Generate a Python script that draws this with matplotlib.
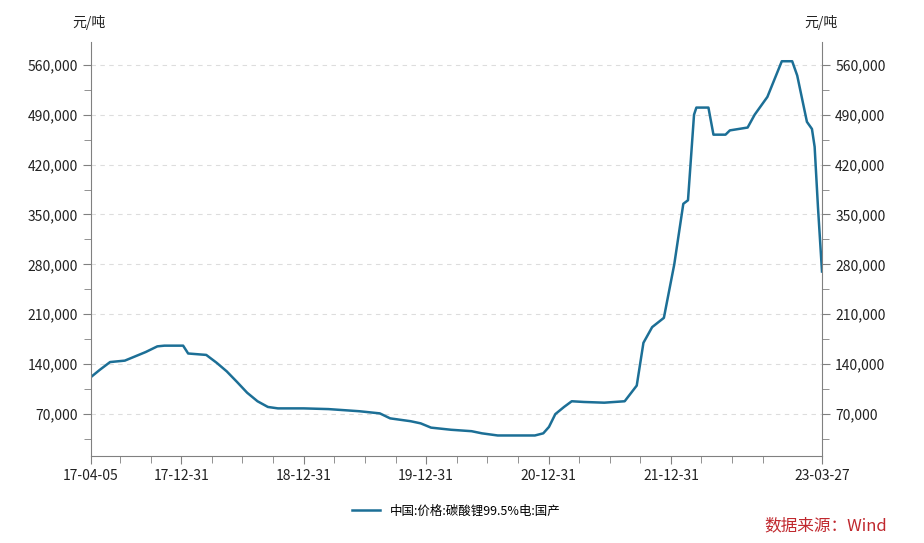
import numpy as np
import pandas as pd
import matplotlib
matplotlib.use('Agg')
import matplotlib.pyplot as plt
import matplotlib.dates as mdates
from matplotlib import ticker as mticker

plt.rcParams['font.family'] = ['Noto Sans CJK SC', 'DejaVu Sans']

dates = pd.to_datetime([
    '2017-04-05', '2017-05-01', '2017-06-01', '2017-07-15', '2017-08-15', '2017-09-15',
    '2017-10-20', '2017-11-10', '2018-01-05', '2018-01-20', '2018-03-15', '2018-04-15',
    '2018-05-15', '2018-06-15', '2018-07-15', '2018-08-15', '2018-09-15', '2018-10-15',
    '2018-12-31', '2019-03-15', '2019-06-15', '2019-08-15', '2019-09-15', '2019-11-15',
    '2019-12-15', '2020-01-15', '2020-03-15', '2020-05-15', '2020-06-15', '2020-08-01',
    '2020-11-20', '2020-12-15', '2021-01-01', '2021-01-20', '2021-02-15', '2021-03-10',
    '2021-04-15', '2021-06-15', '2021-08-15', '2021-09-20', '2021-10-10', '2021-11-05',
    '2021-12-10', '2022-01-10', '2022-02-06', '2022-02-20', '2022-03-10', '2022-03-17',
    '2022-04-22', '2022-05-07', '2022-06-12', '2022-06-25', '2022-08-17', '2022-09-07',
    '2022-10-15', '2022-11-27', '2022-12-28', '2023-01-12', '2023-02-10', '2023-02-25',
    '2023-03-05', '2023-03-15', '2023-03-27'])
price = [
    122000, 132000, 143000, 145000, 151000, 157000,
    165000, 166000, 166000, 155000, 153000, 142000,
    130000, 115000, 100000, 88000, 80000, 78000,
    78000, 77000, 74000, 71000, 64000, 60000,
    57000, 51000, 48000, 46000, 43000, 40000,
    40000, 43000, 52000, 70000, 80000, 88000,
    87000, 86000, 88000, 110000, 170000, 192000,
    205000, 280000, 365000, 370000, 490000, 500000,
    500000, 462000, 462000, 468000, 472000, 490000,
    515000, 565000, 565000, 545000, 480000, 470000,
    445000, 360000, 270000]

line_label = '中国:价格:碳酸锂99.5%电:国产'
xticks = pd.to_datetime(['2017-04-05', '2017-12-31', '2018-12-31', '2019-12-31',
                         '2020-12-31', '2021-12-31', '2023-03-27'])
xticklabels = ['17-04-05', '17-12-31', '18-12-31', '19-12-31', '20-12-31', '21-12-31', '23-03-27']
yticks = [70000, 140000, 210000, 280000, 350000, 420000, 490000, 560000]

fig = plt.figure(figsize=(9.24, 5.43), dpi=100)
ax = fig.add_axes([91/924, 1-456/543, 731/924, 414/543])
ax.plot(dates, price, color='#1c6f96', lw=1.8, label=line_label)
ax.set_xlim(xticks[0], xticks[-1])
ax.set_ylim(11200, 592000)

gc = '#808080'
ax.spines['top'].set_visible(False)
for side in ['left', 'right', 'bottom']:
    ax.spines[side].set_color(gc)
ax.set_yticks(yticks)
ax.yaxis.set_minor_locator(mticker.MultipleLocator(35000))
ax.yaxis.set_major_formatter(mticker.StrMethodFormatter('{x:,.0f}'))
ax.tick_params(axis='y', which='both', left=True, right=True, labelleft=True,
               labelright=True, color=gc, labelsize=10, labelcolor='#222222')
ax.tick_params(which='major', length=6)
ax.tick_params(which='minor', length=5)
ax.set_xticks(xticks)
ax.set_xticklabels(xticklabels)
ax.xaxis.set_minor_locator(mdates.MonthLocator(bymonth=[4, 7, 10]))
ax.tick_params(axis='x', which='both', color=gc, labelsize=10, labelcolor='#222222')
ax.grid(axis='y', ls=(0, (4, 4)), color='#dddddd', lw=0.8)

fig.text(72/924, 1-22/543, '元/吨', fontsize=10, color='#222222', va='center')
fig.text(804/924, 1-22/543, '元/吨', fontsize=10, color='#222222', va='center')
ax.legend(loc='upper center', bbox_to_anchor=(0.5, -0.09), frameon=False, fontsize=9,
          handlelength=2.2)
fig.text(887/924, 1-526/543, '数据来源：Wind', fontsize=12, color='#c0282e',
         ha='right', va='center')

fig.savefig('out.png', dpi=100)
